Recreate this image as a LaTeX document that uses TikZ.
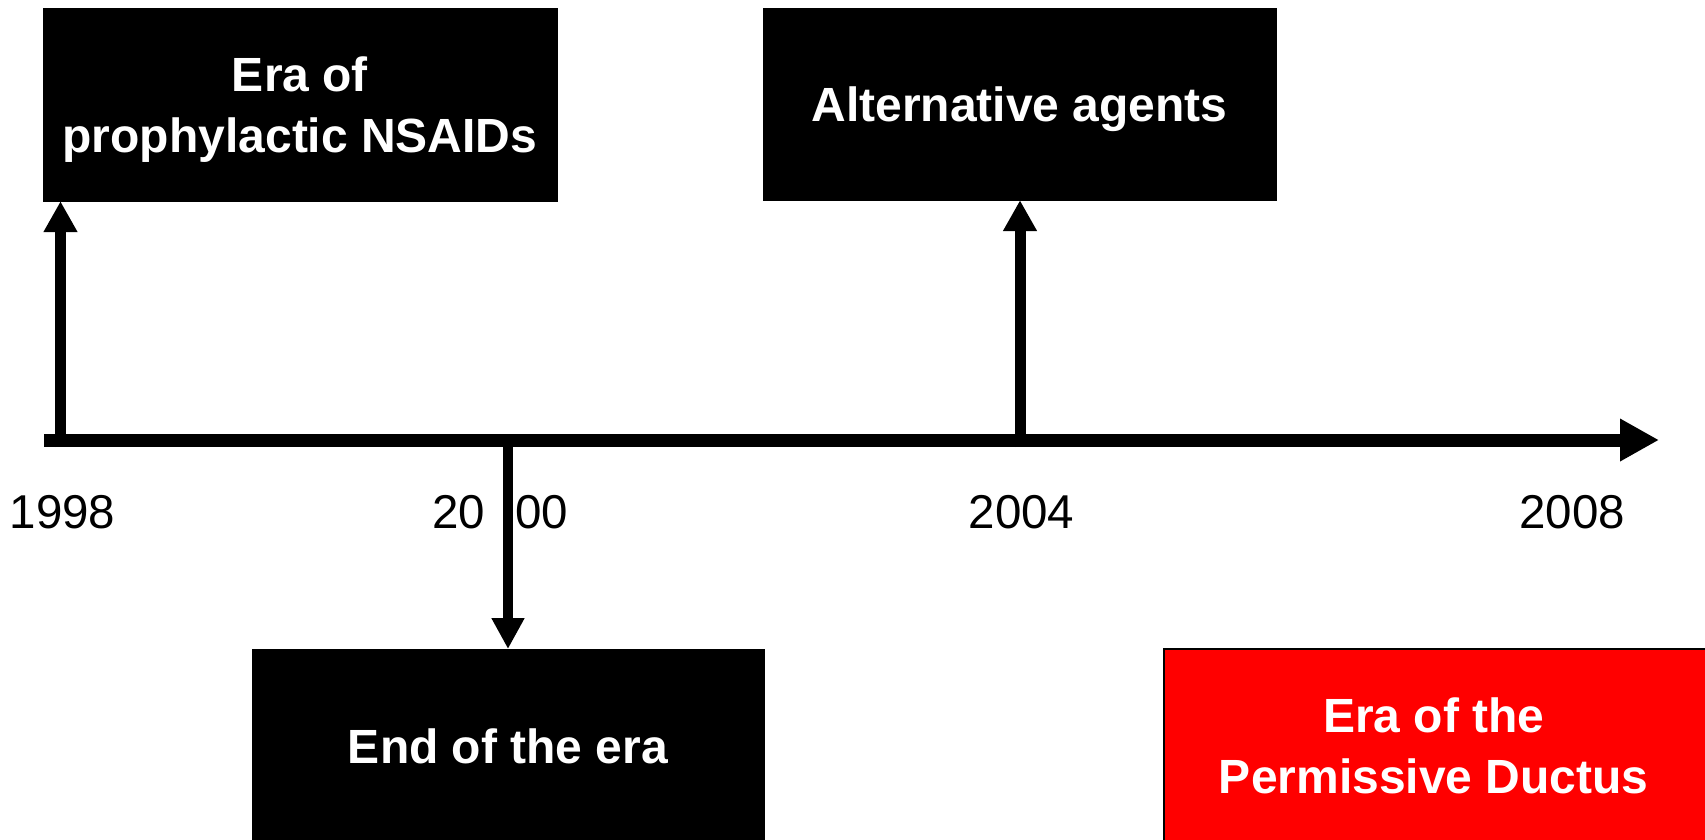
\documentclass[tikz,border=0pt]{standalone}
\usepackage{fontspec}
\setmainfont{Liberation Sans}
\usetikzlibrary{arrows.meta}
\tikzset{
  erabox/.style={fill=black, draw=black, text=white, align=center, inner sep=0pt, text depth=0pt,
    font=\fontsize{48}{60.5}\selectfont\bfseries},
  ductusbox/.style={fill=red, draw=black, line width=1.5pt, text=white, inner sep=0pt, text depth=0pt,
    font=\fontsize{48}{60.5}\selectfont\bfseries},
  yearlabel/.style={anchor=base, inner sep=0pt, font=\fontsize{47.5}{58}\selectfont},
  uparrow/.style={line width=11pt, -{Triangle[width=32pt,length=31pt]}},
}
\begin{document}
\begin{tikzpicture}[x=1pt,y=-1pt]
    \useasboundingbox (0,0) rectangle (1705,839);
    \clip (0,0) rectangle (1705,839);
    \coordinate (AxisMin) at (44,440);
    \coordinate (AxisMax) at (1659,440);
    \coordinate (T1998)   at (60.5,447);
    \coordinate (T2000)   at (508,434);
    \coordinate (T2004)   at (1020,447);
    \node [erabox, minimum width=514, minimum height=193] (nsaids) at (300,104.5) {Era of\\prophylactic NSAIDs};
    \node [erabox, minimum width=513, minimum height=192] (agents) at (1019.5,104) {Alternative agents};
    \node [erabox, minimum width=512, minimum height=194, anchor=north] (endera) at (508,649) {End of the era};
    \node [ductusbox, minimum width=570, minimum height=194, anchor=north west] (ductus) at (1163,648)
      {\parbox[b]{540pt}{\centering Era of the\\Permissive Ductus}\kern30pt};
    \draw [line width=13pt,-{Triangle[width=40pt,length=39pt]}] (AxisMin) -- (AxisMax);% time axis
    \draw [uparrow] (T1998) -- (T1998 |- nsaids.south);
    \draw [uparrow] (T2004) -- (T2004 |- agents.south);
    \draw [line width=10pt,-{Triangle[width=31pt,length=31pt]}] (T2000) -- (T2000 |- endera.north);
    \node [yearlabel] (y1998) at (62.5,528) {1998};
    \node [yearlabel] (y2000) at (500,528) {20\ \hspace{17pt}00};
    \node [yearlabel] (y2004) at (1021.5,528) {2004};
    \node [yearlabel] (y2008) at (1572,528) {2008};
  \end{tikzpicture}
\end{document}
